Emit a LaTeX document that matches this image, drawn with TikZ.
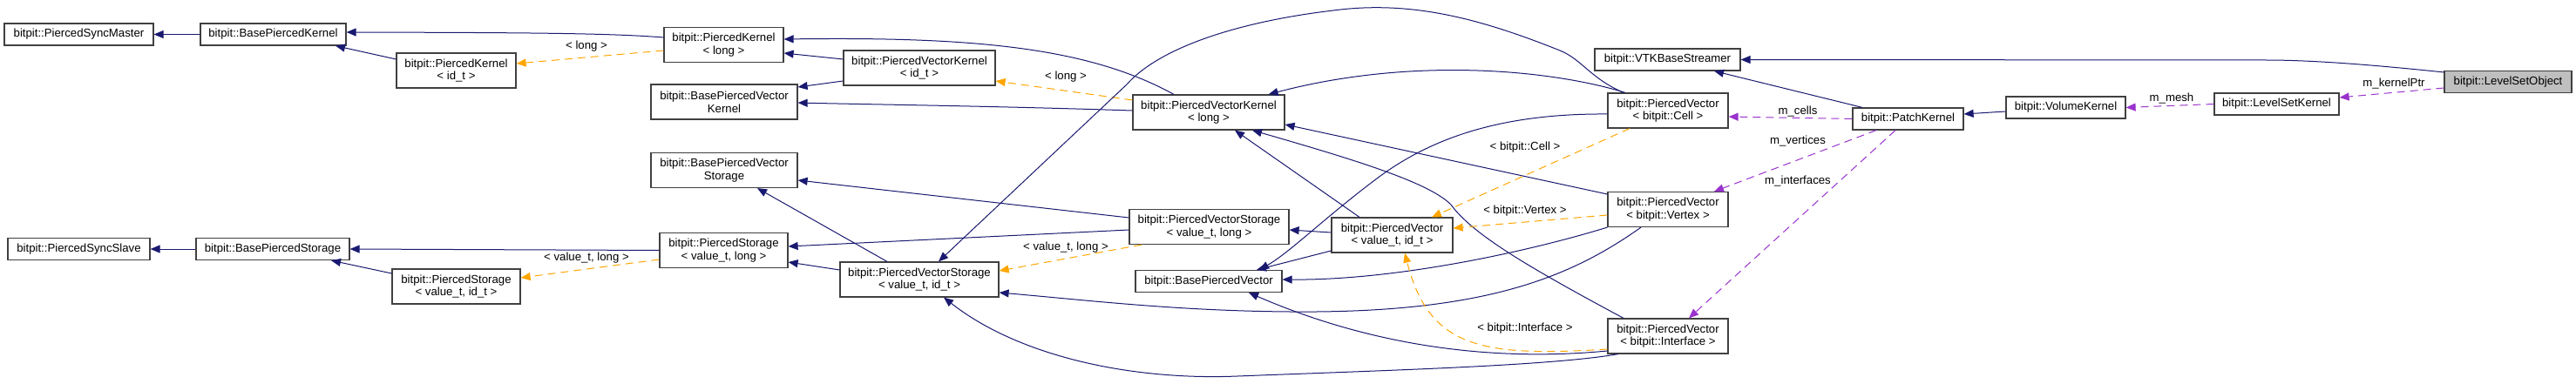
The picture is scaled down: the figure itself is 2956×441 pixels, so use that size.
\documentclass[tikz,border=0pt]{standalone}
\usepackage{fontspec}
\setmainfont{Liberation Sans}
\usepackage{tikz}
\usetikzlibrary{arrows.meta}
\definecolor{navyedge}{HTML}{191970}
\definecolor{orangeedge}{HTML}{FFA500}
\definecolor{orchidedge}{HTML}{9A32CD}
\definecolor{boxgrey}{HTML}{404040}
\definecolor{fillgrey}{HTML}{BFBFBF}
\newcommand{\dxfont}{\fontsize{13.2}{14.6}\selectfont}

\begin{document}
\begin{tikzpicture}[x=1pt,y=-1pt,
  cls/.style={draw=boxgrey,line width=1.2pt,fill=white,font=\dxfont,align=center,inner sep=0pt,minimum height=25pt,minimum width=#1pt},
  cls2/.style={cls=#1,minimum height=40pt},
  lk/.style={-{Triangle[length=11pt,width=9pt]},line width=1pt,draw=#1,fill=none},
  lk/.default=navyedge,
  dl/.style={lk=#1,dash pattern=on 9pt off 6pt},
  lbl/.style={font=\dxfont,inner sep=0pt}]
  \useasboundingbox (0,0) rectangle (2956,441);
  \node[cls=171] (psm) at (90.5,39.5) {bitpit::PiercedSyncMaster};
  \node[cls=167] (bpk) at (313.5,39.5) {bitpit::BasePiercedKernel};
  \node[cls2=137] (pkid) at (523.5,81) {bitpit::PiercedKernel\\< id\_t >};
  \node[cls=163] (pss) at (90.5,286) {bitpit::PiercedSyncSlave};
  \node[cls=176] (bps) at (313,286) {bitpit::BasePiercedStorage};
  \node[cls2=147] (psid) at (523.5,329) {bitpit::PiercedStorage\\< value\_t, id\_t >};
  \node[cls2=137] (pklong) at (830.5,51.5) {bitpit::PiercedKernel\\< long >};
  \node[cls2=168] (bpvk) at (831,117) {bitpit::BasePiercedVector\\Kernel};
  \node[cls2=168] (bpvs) at (831,195.5) {bitpit::BasePiercedVector\\Storage};
  \node[cls2=147] (pslong) at (830.5,287.5) {bitpit::PiercedStorage\\< value\_t, long >};
  \node[cls2=174] (pvkid) at (1055,78) {bitpit::PiercedVectorKernel\\< id\_t >};
  \node[cls2=182] (pvsid) at (1055,321) {bitpit::PiercedVectorStorage\\< value\_t, id\_t >};
  \node[cls2=174] (pvklong) at (1387,129) {bitpit::PiercedVectorKernel\\< long >};
  \node[cls2=183] (pvslong) at (1387.5,260.5) {bitpit::PiercedVectorStorage\\< value\_t, long >};
  \node[cls=168] (bpv) at (1387,323) {bitpit::BasePiercedVector};
  \node[cls2=139] (pvid) at (1597.5,270) {bitpit::PiercedVector\\< value\_t, id\_t >};
  \node[cls=167] (vtk) at (1913.5,68.5) {bitpit::VTKBaseStreamer};
  \node[cls2=138] (pvcell) at (1914,127) {bitpit::PiercedVector\\< bitpit::Cell >};
  \node[cls2=138] (pvvert) at (1914,240.5) {bitpit::PiercedVector\\< bitpit::Vertex >};
  \node[cls2=138] (pvint) at (1914,386) {bitpit::PiercedVector\\< bitpit::Interface >};
  \node[cls=127] (patch) at (2189.5,136.5) {bitpit::PatchKernel};
  \node[cls=137] (vol) at (2370.5,123.5) {bitpit::VolumeKernel};
  \node[cls=143] (lsk) at (2612.5,119.5) {bitpit::LevelSetKernel};
  \node[cls=146,fill=fillgrey] (lso) at (2878,94) {bitpit::LevelSetObject};
  % kernels
  \draw[lk] (bpk.west) -- (psm.east);
  \draw[lk] ([yshift=8.5pt]pklong.west) .. controls (700,38) and (600,37.5) .. ([yshift=2.5pt]bpk.east);
  \draw[lk] ([yshift=13pt]pkid.west) -- ([xshift=71.5pt]bpk.south);
  \draw[dl=orangeedge] ([yshift=-6.5pt]pklong.west) -- ([yshift=8pt]pkid.east);
  \draw[lk] ([xshift=-40pt]pvklong.north) .. controls (1250,55) and (1120,42) .. ([yshift=6.5pt]pklong.east);
  \draw[lk] ([yshift=10pt]pvkid.west) -- ([yshift=-9.5pt]pklong.east);
  \draw[lk] ([yshift=-15pt]pvkid.west) -- ([yshift=17pt]bpvk.east);
  \draw[dl=orangeedge] ([yshift=14pt]pvklong.west) -- ([yshift=-15pt]pvkid.east);
  \draw[lk] ([yshift=2pt]pvklong.west) .. controls (1150,122) and (1000,120) .. ([yshift=-1pt]bpvk.east);
  % storages
  \draw[lk] (bps.west) -- (pss.east);
  \draw[lk] (pslong.west) -- (bps.east);
  \draw[lk] ([yshift=15pt]psid.west) -- ([xshift=67pt]bps.south);
  \draw[dl=orangeedge] ([yshift=-10.5pt]pslong.west) -- ([yshift=10pt]psid.east);
  \draw[lk] ([yshift=10.5pt]pvslong.west) -- ([yshift=-11.5pt]bpvs.east);
  \draw[lk] ([xshift=-37pt]pvsid.north) -- ([xshift=38pt]bpvs.south);
  \draw[lk] ([yshift=-3.5pt]pvslong.west) -- ([yshift=4.5pt]pslong.east);
  \draw[lk] ([yshift=11pt]pvsid.west) -- ([yshift=-13.5pt]pslong.east);
  \draw[dl=orangeedge] ([xshift=-77.5pt]pvslong.south) -- ([yshift=10pt]pvsid.east);
  % pierced vectors
  \draw[lk] ([xshift=-51pt]pvcell.north) .. controls (1825,90) and (1815,68) .. (1790,58) .. controls (1700,22) and (1620,0) .. (1530,12) .. controls (1420,25) and (1330,55) .. (1293,97) -- ([xshift=22pt]pvsid.north);
  \draw[lk] ([xshift=-49pt]pvcell.north) .. controls (1780,80) and (1620,65) .. ([xshift=-19pt]pvklong.north east);
  \draw[lk] ([yshift=-4pt]pvcell.west) .. controls (1720,130) and (1640,160) .. (1580,205) .. controls (1520,250) and (1480,290) .. ([xshift=58pt]bpv.north);
  \draw[lk] ([yshift=17.5pt]pvvert.west) -- ([yshift=-14pt]pvklong.east);
  \draw[lk] ([xshift=-51pt]pvint.north) .. controls (1760,310) and (1690,270) .. (1665,235) .. controls (1640,210) and (1560,185) .. ([xshift=50pt]pvklong.south);
  \draw[lk] ([xshift=-37.5pt]pvid.north) -- ([xshift=30pt]pvklong.south);
  \draw[lk] ([yshift=3pt]pvid.west) -- ([yshift=-3.5pt]pvslong.east);
  \draw[lk] ([yshift=-18pt]pvid.west) -- ([xshift=55pt]bpv.north);
  \draw[lk] (pvvert.south west) .. controls (1750,290) and (1600,322) .. ([yshift=2pt]bpv.east);
  \draw[lk] ([xshift=-31pt]pvvert.south) .. controls (1800,320) and (1700,360) .. (1480,358) .. controls (1350,357) and (1250,345) .. ([yshift=-15pt]pvsid.east);
  \draw[lk] ([yshift=-17pt]pvint.west) .. controls (1720,415) and (1580,400) .. ([xshift=46pt]bpv.south);
  \draw[lk] ([xshift=-57pt]pvint.south) .. controls (1780,420) and (1600,425) .. (1420,432) .. controls (1300,437) and (1170,410) .. ([xshift=28pt]pvsid.south);
  \draw[dl=orangeedge] ([xshift=-44pt]pvcell.south) -- ([xshift=45.5pt]pvid.north);
  \draw[dl=orangeedge] ([yshift=-6.5pt]pvvert.west) -- ([yshift=8pt]pvid.east);
  \draw[dl=orangeedge] ([yshift=-15pt]pvint.west) .. controls (1700,410) and (1640,400) .. ([xshift=14.5pt]pvid.south);
  % patch and level set
  \draw[dl=orchidedge] (patch.west) -- ([yshift=-7pt]pvcell.east);
  \draw[dl=orchidedge] ([xshift=-36.5pt]patch.south) -- ([xshift=53pt]pvvert.north);
  \draw[dl=orchidedge] ([xshift=-14.5pt]patch.south) -- ([xshift=24pt]pvint.north);
  \draw[lk] ([xshift=-52.5pt]patch.north) -- ([xshift=53.5pt]vtk.south);
  \draw[lk] ([yshift=-4.5pt]vol.west) -- ([yshift=5.5pt]patch.east);
  \draw[dl=orchidedge] (lsk.west) -- (vol.east);
  \draw[dl=orchidedge] ([yshift=-7pt]lso.west) -- ([yshift=7.5pt]lsk.east);
  \draw[lk] ([yshift=11pt]lso.west) .. controls (2700,72) and (2640,69) .. (2600,69) -- (vtk.east);
  \node[lbl] (l1) at (673,53) {< long >};
  \node[lbl] (l2) at (1223,88) {< long >};
  \node[lbl] (l3) at (673,296) {< value\_t, long >};
  \node[lbl] (l4) at (1223,284) {< value\_t, long >};
  \node[lbl] (l5) at (1750,169) {< bitpit::Cell >};
  \node[lbl] (l6) at (1750,242) {< bitpit::Vertex >};
  \node[lbl] (l7) at (1750,377) {< bitpit::Interface >};
  \node[lbl] (l8) at (2063,128) {m\_cells};
  \node[lbl] (l9) at (2063,162) {m\_vertices};
  \node[lbl] (l10) at (2063,208) {m\_interfaces};
  \node[lbl] (l11) at (2492,113) {m\_mesh};
  \node[lbl] (l12) at (2747,96) {m\_kernelPtr};
\end{tikzpicture}
\end{document}
